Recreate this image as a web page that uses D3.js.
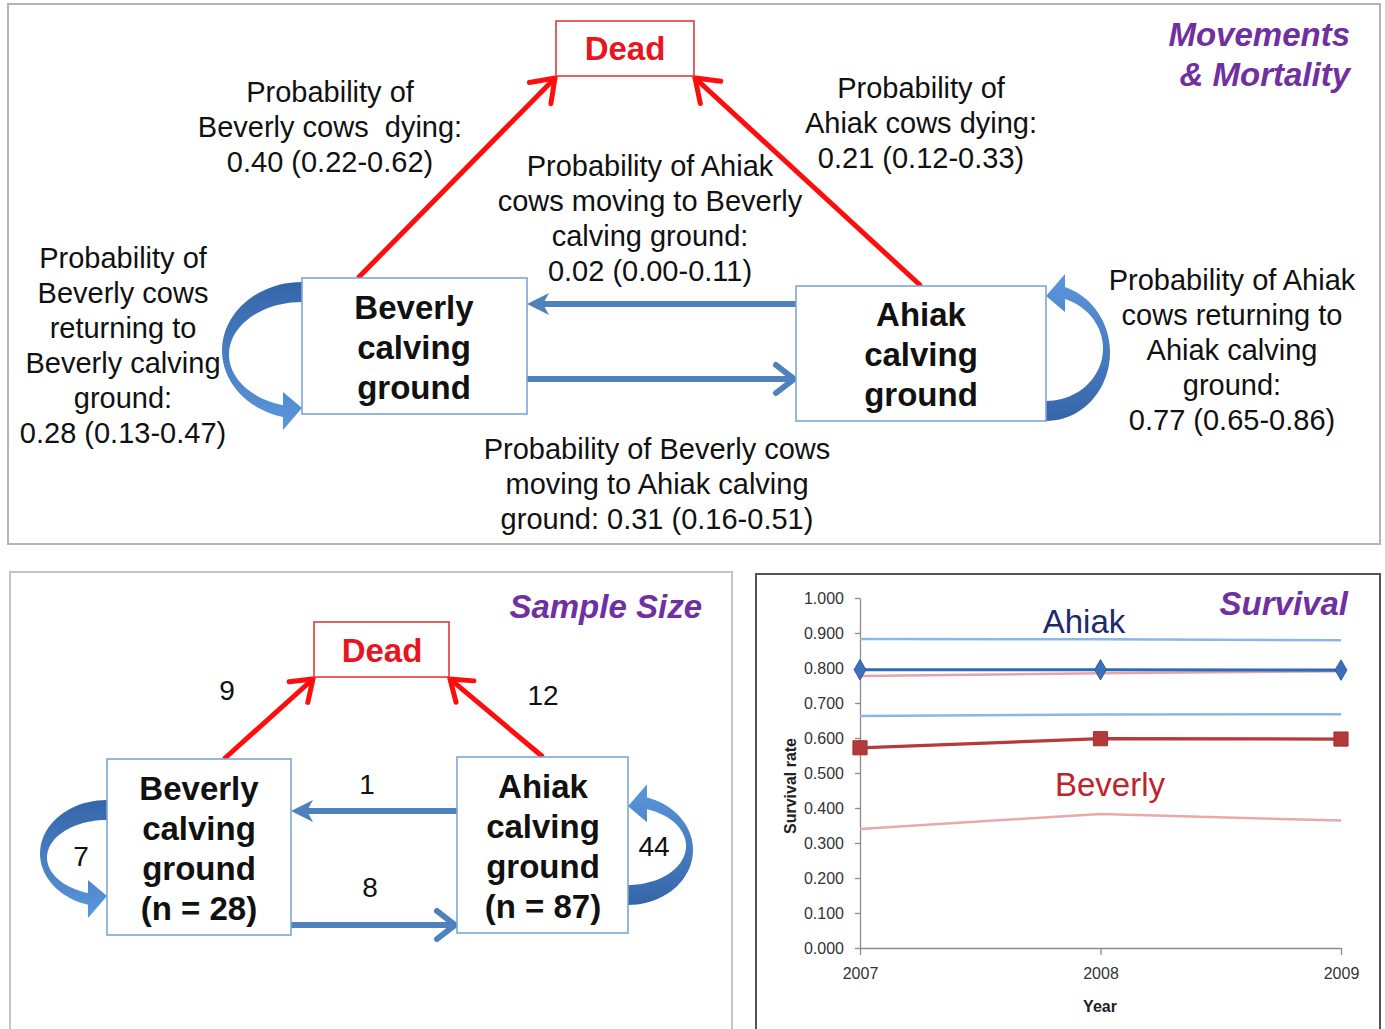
<!DOCTYPE html>
<html>
<head>
<meta charset="utf-8">
<script src="https://cdn.jsdelivr.net/npm/d3@7"></script>
<style>
  body { margin: 0; background: #fff; }
  svg { display: block; font-family: "Liberation Sans", Arial, sans-serif; }
</style>
</head>
<body>
<script>
// ---- data ----
const years = [2007, 2008, 2009];
const ahiakEst = [0.795, 0.795, 0.794];
const ahiakUpper = [0.883, 0.882, 0.879];
const ahiakLower = [0.663, 0.667, 0.668];
const beverlyEst = [0.572, 0.598, 0.597];
const beverlyUpper = [0.777, 0.785, 0.791];
const beverlyLower = [0.340, 0.383, 0.364];
const yTicks = [0, 0.1, 0.2, 0.3, 0.4, 0.5, 0.6, 0.7, 0.8, 0.9, 1.0];

const bevDying = ["Probability of", "Beverly cows  dying:", "0.40 (0.22-0.62)"];
const ahiDying = ["Probability of", "Ahiak cows dying:", "0.21 (0.12-0.33)"];
const ahiToBev = ["Probability of Ahiak", "cows moving to Beverly", "calving ground:", "0.02 (0.00-0.11)"];
const bevToAhi = ["Probability of Beverly cows", "moving to Ahiak calving", "ground: 0.31 (0.16-0.51)"];
const bevStay = ["Probability of", "Beverly cows", "returning to", "Beverly calving", "ground:", "0.28 (0.13-0.47)"];
const ahiStay = ["Probability of Ahiak", "cows returning to", "Ahiak calving", "ground:", "0.77 (0.65-0.86)"];

const sampleBev = 28, sampleAhi = 87;
const nBevDead = 9, nAhiDead = 12, nAhiToBev = 1, nBevToAhi = 8, nBevStay = 7, nAhiStay = 44;

// ---- colours ----
const purple = "#7030a0", red = "#ff0d0d", blue = "#4f81bd", boxBlue = "#7ea6d8";

const svg = d3.select("body").append("svg").attr("width", 1385).attr("height", 1029);

const defs = svg.append("defs");
const grad = defs.append("linearGradient").attr("id", "loopGrad")
    .attr("x1", 0).attr("y1", 0).attr("x2", 0).attr("y2", 1);
grad.append("stop").attr("offset", "0%").attr("stop-color", "#3565a8");
grad.append("stop").attr("offset", "100%").attr("stop-color", "#5b97dc");

// panels
svg.append("rect").attr("x", 8).attr("y", 4).attr("width", 1372).attr("height", 540)
    .attr("fill", "none").attr("stroke", "#b4b4b4").attr("stroke-width", 2);
svg.append("rect").attr("x", 10).attr("y", 572).attr("width", 722).attr("height", 470)
    .attr("fill", "none").attr("stroke", "#c4c4c4").attr("stroke-width", 2);
svg.append("rect").attr("x", 756).attr("y", 574).attr("width", 624).attr("height", 470)
    .attr("fill", "none").attr("stroke", "#555").attr("stroke-width", 2);

function lines(g, arr, x, y0, lh, size, opts = {}) {
    const t = g.append("text")
        .attr("text-anchor", opts.anchor || "middle")
        .attr("font-size", size)
        .attr("font-weight", opts.weight || "normal")
        .attr("font-style", opts.style || "normal")
        .attr("fill", opts.fill || "#111");
    arr.forEach((s, i) => {
        t.append("tspan").attr("x", x).attr("y", y0 + i * lh).attr("dy", "0.36em")
            .attr("xml:space", "preserve").text(s);
    });
    return t;
}

function box(g, x, y, w, h, stroke) {
    g.append("rect").attr("x", x).attr("y", y).attr("width", w).attr("height", h)
        .attr("fill", "#fff").attr("stroke", stroke).attr("stroke-width", 1.6);
}

// straight arrow with open chevron head
function redArrow(g, x1, y1, x2, y2, len) {
    const a = Math.atan2(y2 - y1, x2 - x1);
    g.append("line").attr("x1", x1).attr("y1", y1).attr("x2", x2 - 3 * Math.cos(a)).attr("y2", y2 - 3 * Math.sin(a))
        .attr("stroke", red).attr("stroke-width", 5);
    const b = 0.62;
    const p = [
        [x2 - len * Math.cos(a - b), y2 - len * Math.sin(a - b)],
        [x2, y2],
        [x2 - len * Math.cos(a + b), y2 - len * Math.sin(a + b)]
    ];
    g.append("path").attr("d", d3.line()(p)).attr("fill", "none")
        .attr("stroke", red).attr("stroke-width", 5).attr("stroke-linejoin", "miter").attr("stroke-linecap", "round");
}

function blueArrow(g, xFrom, xTo, y, filled) {
    const dir = Math.sign(xTo - xFrom);
    if (filled) {
        g.append("line").attr("x1", xFrom).attr("y1", y).attr("x2", xTo - dir * 14).attr("y2", y)
            .attr("stroke", blue).attr("stroke-width", 6);
        const p = [[xTo, y], [xTo - dir * 22, y - 11], [xTo - dir * 16, y], [xTo - dir * 22, y + 11]];
        g.append("path").attr("d", d3.line()(p) + "Z").attr("fill", blue);
    } else {
        g.append("line").attr("x1", xFrom).attr("y1", y).attr("x2", xTo - dir * 3).attr("y2", y)
            .attr("stroke", blue).attr("stroke-width", 6);
        const p = [[xTo - dir * 20, y - 14], [xTo - dir * 2, y], [xTo - dir * 20, y + 14]];
        g.append("path").attr("d", d3.line()(p)).attr("fill", "none")
            .attr("stroke", blue).attr("stroke-width", 6).attr("stroke-linecap", "round");
    }
}

// curved "return" arrow: built bulging left with tail at top, rotated for the right side
function loopArrow(g, x0, yTop, yBot, reach, flip) {
    const h = yBot - yTop, w = reach, tail = 20;
    const outer = t => [-w * Math.sin(t), h / 2 - h / 2 * Math.cos(t)];
    const ciy = (tail + h - 12) / 2, riy = (h - 12 - tail) / 2, rix = w - 7;
    const inner = t => [-rix * Math.sin(t), ciy - riy * Math.cos(t)];
    const head = 19;
    const tEo = Math.PI - Math.asin(head / w), tEi = Math.PI - Math.asin(head / rix);
    const n = 40;
    const op = d3.range(n + 1).map(i => outer(tEo * i / n));
    const ip = d3.range(n + 1).map(i => inner(tEi * (n - i) / n));
    const Po = op[n], Pi = ip[0];
    const M = [(Po[0] + Pi[0]) / 2, (Po[1] + Pi[1]) / 2];
    const ext = (P, L) => {
        const dx = P[0] - M[0], dy = P[1] - M[1], d = Math.hypot(dx, dy);
        return [M[0] + dx / d * L, M[1] + dy / d * L];
    };
    const pts = op.concat([ext(Po, 19), [0, M[1] - 3], ext(Pi, 19)]).concat(ip);
    g.append("path")
        .attr("transform", flip ? `translate(${x0},${yBot}) rotate(180)` : `translate(${x0},${yTop})`)
        .attr("d", d3.line()(pts) + "Z")
        .attr("fill", "url(#loopGrad)");
}

// ================= Movements & Mortality =================
const gTop = svg.append("g");
loopArrow(gTop, 302, 282, 419, 80, false);
loopArrow(gTop, 1046, 284, 421, 64, true);
redArrow(gTop, 358, 278, 555, 78, 26);
redArrow(gTop, 921, 286, 695, 78, 26);
blueArrow(gTop, 796, 527, 304, true);
blueArrow(gTop, 527, 796, 379, false);

box(gTop, 556, 21, 138, 55, "#e23a3a");
lines(gTop, ["Dead"], 625, 48, 0, 33, { weight: "bold", fill: "#e8141e" });
box(gTop, 302, 278, 225, 136, boxBlue);
lines(gTop, ["Beverly", "calving", "ground"], 414, 307, 40, 33, { weight: "bold" });
box(gTop, 796, 286, 250, 135, boxBlue);
lines(gTop, ["Ahiak", "calving", "ground"], 921, 314, 40, 33, { weight: "bold" });

lines(gTop, bevDying, 330, 92, 35, 29);
lines(gTop, ahiDying, 921, 88, 35, 29);
lines(gTop, ahiToBev, 650, 166, 35, 29);
lines(gTop, bevToAhi, 657, 449, 35, 29);
lines(gTop, bevStay, 123, 258, 35, 29);
lines(gTop, ahiStay, 1232, 280, 35, 29);
lines(gTop, ["Movements", "& Mortality"], 1350, 34, 40, 33, { anchor: "end", weight: "bold", style: "italic", fill: purple });

// ================= Sample Size =================
const ss = svg.append("g");
loopArrow(ss, 107, 800, 907, 67, false);
loopArrow(ss, 628, 795, 905, 65, true);
redArrow(ss, 224, 759, 313, 679, 24);
redArrow(ss, 543, 757, 450, 679, 24);
blueArrow(ss, 457, 291, 811, true);
blueArrow(ss, 291, 457, 925, false);

box(ss, 314, 622, 135, 55, "#e23a3a");
lines(ss, ["Dead"], 382, 650, 0, 33, { weight: "bold", fill: "#e8141e" });
box(ss, 107, 759, 184, 176, boxBlue);
lines(ss, ["Beverly", "calving", "ground", `(n = ${sampleBev})`], 199, 788, 40, 33, { weight: "bold" });
box(ss, 457, 757, 171, 176, boxBlue);
lines(ss, ["Ahiak", "calving", "ground", `(n = ${sampleAhi})`], 543, 786, 40, 33, { weight: "bold" });

lines(ss, [String(nBevDead)], 227, 690, 0, 28);
lines(ss, [String(nAhiDead)], 543, 695, 0, 28);
lines(ss, [String(nAhiToBev)], 367, 784, 0, 28);
lines(ss, [String(nBevToAhi)], 370, 887, 0, 28);
lines(ss, [String(nBevStay)], 81, 856, 0, 28);
lines(ss, [String(nAhiStay)], 654, 846, 0, 28);
lines(ss, ["Sample Size"], 702, 606, 0, 33, { anchor: "end", weight: "bold", style: "italic", fill: purple });

// ================= Survival chart =================
const sv = svg.append("g");
const x = d3.scaleLinear().domain([2007, 2009]).range([860, 1341]);
const y = d3.scaleLinear().domain([0, 1]).range([948, 598]);

const yAxis = sv.append("g").attr("transform", `translate(${x(2007)},0)`)
    .call(d3.axisLeft(y).tickValues(yTicks).tickFormat(d3.format(".3f")).tickSize(5).tickSizeOuter(0).tickPadding(11));
const xAxis = sv.append("g").attr("transform", `translate(0,${y(0)})`)
    .call(d3.axisBottom(x).tickValues(years).tickFormat(d3.format("d")).tickSize(7).tickSizeOuter(0).tickPadding(13));
[xAxis, yAxis].forEach(a => {
    a.select(".domain").attr("stroke", "#8c8c8c").attr("stroke-width", 1.3);
    a.selectAll(".tick line").attr("stroke", "#8c8c8c").attr("stroke-width", 1.3);
    a.selectAll(".tick text").attr("font-size", 16).attr("fill", "#333");
});

const line = d3.line().x((d, i) => x(years[i])).y(d => y(d));
const series = [
    { v: beverlyLower, c: "#eaa9a9", w: 2.5 },
    { v: beverlyUpper, c: "#e6a4a4", w: 2.5 },
    { v: ahiakUpper, c: "#8db6e6", w: 2.5 },
    { v: ahiakLower, c: "#8db6e6", w: 2.5 },
    { v: beverlyEst, c: "#b7393b", w: 3.2 },
    { v: ahiakEst, c: "#2f6ab4", w: 3.2 }
];
sv.selectAll("path.series").data(series).join("path").attr("class", "series")
    .attr("d", d => line(d.v)).attr("fill", "none").attr("stroke", d => d.c).attr("stroke-width", d => d.w);

sv.selectAll("path.sq").data(beverlyEst).join("path").attr("class", "sq")
    .attr("transform", (d, i) => `translate(${x(years[i])},${y(d)})`)
    .attr("d", d3.symbol(d3.symbolSquare, 200)).attr("fill", "#b3393b").attr("stroke", "#a33033");
sv.selectAll("path.dm").data(ahiakEst).join("path").attr("class", "dm")
    .attr("transform", (d, i) => `translate(${x(years[i])},${y(d)})`)
    .attr("d", d3.symbol(d3.symbolDiamond, 120)).attr("fill", "#3d70b8").attr("stroke", "#2c5c9c");

sv.append("text").attr("x", 1100).attr("y", 1012).attr("text-anchor", "middle")
    .attr("font-size", 16).attr("font-weight", "bold").attr("fill", "#222").text("Year");
sv.append("text").attr("transform", "translate(796,786) rotate(-90)").attr("text-anchor", "middle")
    .attr("font-size", 16).attr("font-weight", "bold").attr("fill", "#222").text("Survival rate");

lines(sv, ["Ahiak"], 1084, 621, 0, 33, { fill: "#1f2a6b" });
lines(sv, ["Beverly"], 1110, 784, 0, 33, { fill: "#c0242b" });
lines(sv, ["Survival"], 1348, 603, 0, 33, { anchor: "end", weight: "bold", style: "italic", fill: purple });
</script>
</body>
</html>
